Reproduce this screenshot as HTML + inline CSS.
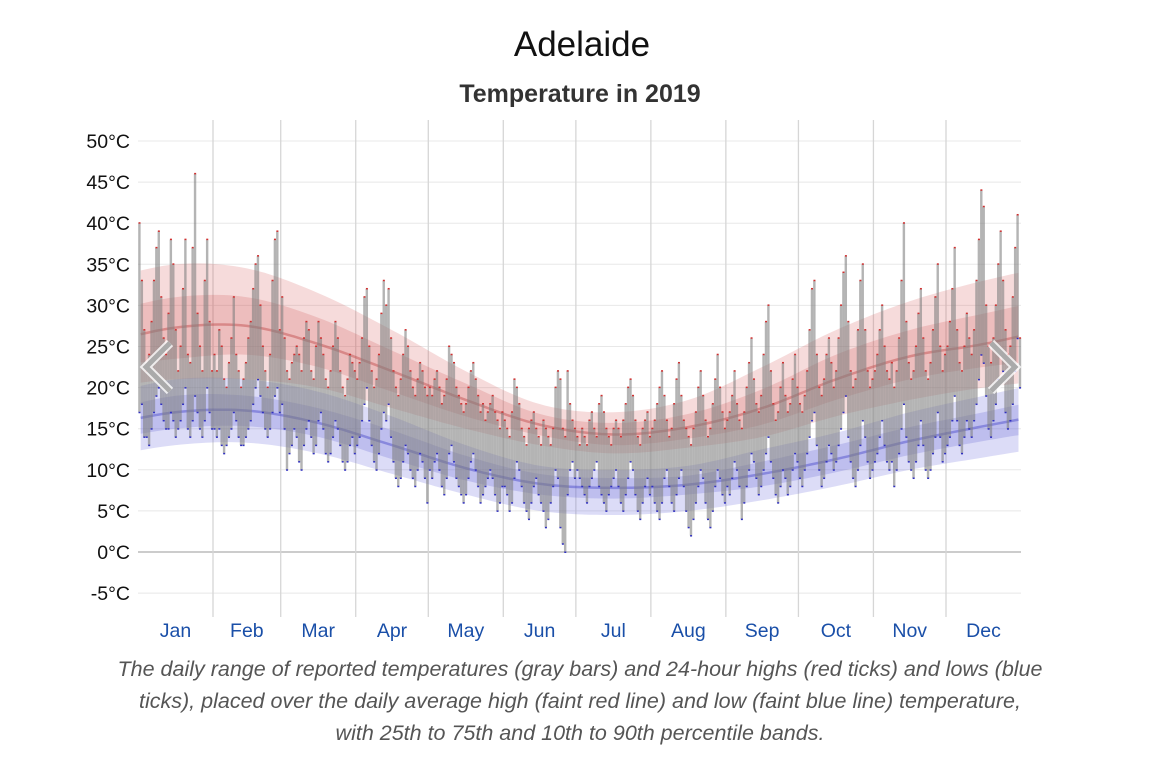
<!DOCTYPE html>
<html><head><meta charset="utf-8"><style>
body{margin:0;background:#fff;width:1162px;height:778px;overflow:hidden;font-family:"Liberation Sans",sans-serif}
</style></head><body>
<svg id="c" width="1162" height="778" xmlns="http://www.w3.org/2000/svg">
<text x="582" y="56" text-anchor="middle" font-size="35" fill="#111">Adelaide</text>
<text x="580" y="102" text-anchor="middle" font-size="25" font-weight="bold" fill="#333">Temperature in 2019</text>
<g id="grid"></g><g id="bands"></g><g id="bars"></g><g id="axes"></g>
<g font-size="21.5" font-style="italic" fill="#555" text-anchor="middle">
<text x="580" y="676">The daily range of reported temperatures (gray bars) and 24-hour highs (red ticks) and lows (blue</text>
<text x="580" y="708">ticks), placed over the daily average high (faint red line) and low (faint blue line) temperature,</text>
<text x="580" y="740">with 25th to 75th and 10th to 90th percentile bands.</text>
</g>
<g><polyline points="170,343 146,367 170,391" fill="none" stroke="#fff" stroke-width="9" opacity="0.8"/><polyline points="170,343 146,367 170,391" fill="none" stroke="#aaa" stroke-width="5"/></g>
<g><polyline points="991,343 1015,367 991,391" fill="none" stroke="#fff" stroke-width="9" opacity="0.8"/><polyline points="991,343 1015,367 991,391" fill="none" stroke="#aaa" stroke-width="5"/></g>
</svg>
<script>
const months=["Jan","Feb","Mar","Apr","May","Jun","Jul","Aug","Sep","Oct","Nov","Dec"];
const monthDays=[31,28,31,30,31,30,31,31,30,31,30,31];
const yTicks=[50,45,40,35,30,25,20,15,10,5,0,-5];
const highs=[40,33,27,22,24,28,33,37,39,31,26,24,29,38,35,27,22,25,32,38,24,23,37,46,29,25,22,33,38,28,22,
24,22,27,25,21,20,23,26,31,24,22,20,21,23,26,28,32,35,36,30,25,22,20,24,33,38,39,27,
31,26,22,21,23,24,25,24,22,26,28,27,22,21,25,28,26,24,21,20,22,25,28,26,22,20,19,21,24,23,22,
21,23,26,31,32,25,22,20,21,24,29,33,30,32,26,22,20,19,21,24,27,25,22,20,19,21,23,22,20,19,
20,19,21,22,20,18,19,21,25,24,23,20,19,18,17,18,20,22,23,21,19,17,18,16,17,18,19,17,16,15,17,
16,15,14,17,21,20,18,15,14,13,15,16,17,15,14,13,16,15,14,13,15,20,22,21,15,14,22,18,16,15,
14,13,15,14,13,16,17,15,14,18,19,17,15,14,13,15,16,15,14,16,18,20,21,19,16,14,13,15,16,17,14,
15,16,18,20,22,19,16,14,15,18,21,23,19,16,15,14,13,15,17,20,22,19,16,14,15,18,21,24,20,17,15,
16,17,19,22,18,16,15,17,20,23,26,21,18,17,19,24,28,30,22,18,16,17,20,23,19,17,18,21,24,20,
18,17,19,22,27,32,33,24,20,19,21,24,26,23,20,22,26,30,34,36,28,22,20,21,27,33,35,27,22,20,21,
22,24,27,30,25,22,21,23,20,22,26,33,40,28,23,21,22,25,29,32,26,22,21,23,27,31,35,25,22,24,
25,28,32,37,27,23,22,25,29,26,24,27,33,38,44,42,30,25,23,26,30,35,39,33,27,24,25,31,37,41,26];
const lows=[17,18,14,14,13,15,17,19,20,18,16,15,15,17,16,14,15,16,18,20,15,14,16,19,17,15,14,16,20,17,15,
15,14,15,13,12,13,14,15,17,16,14,13,13,14,15,16,18,20,21,19,17,15,14,15,17,19,20,17,
18,15,10,12,13,15,14,11,10,13,15,16,14,12,13,16,17,15,12,11,12,14,16,15,13,11,10,11,13,14,12,
13,14,16,18,20,16,13,11,10,12,15,17,16,18,14,11,9,8,9,11,13,12,10,9,8,10,12,11,9,6,
10,9,11,12,10,8,7,9,12,13,11,9,8,7,6,7,9,11,12,10,8,6,7,8,9,10,9,7,5,6,8,
8,7,5,6,9,11,10,8,6,5,4,6,8,9,7,6,5,3,4,6,8,10,9,3,1,0,7,10,11,9,
10,9,8,7,6,8,9,10,11,8,7,6,5,7,8,9,10,8,6,5,7,9,11,10,7,5,4,6,8,9,7,
8,6,5,4,6,9,10,8,6,5,7,9,10,8,5,3,2,4,6,8,10,9,6,4,3,5,8,10,9,7,6,
8,7,9,11,10,8,4,6,8,10,12,11,9,7,8,10,12,14,11,9,7,6,8,10,9,7,8,10,12,11,
9,8,10,12,14,16,17,13,10,8,9,11,13,12,10,11,13,15,17,19,14,11,9,8,10,13,16,14,11,9,10,
11,12,14,16,13,11,10,11,8,10,12,15,18,14,11,10,9,11,13,16,13,10,9,10,12,14,17,14,11,12,
13,14,16,19,16,13,12,14,16,15,14,16,18,21,24,23,19,15,14,16,18,21,24,22,17,15,16,18,22,26,20];
const highMean=[27.3,27.5,25.3,22,18.5,15.5,14.3,15.2,17.5,21,23.8,25.3];
const highP90=[35,34.5,31.5,27,22,18,17,18.5,22.5,27,30.5,33];
const highP75=[31,31,28.5,24.5,20.5,16.8,15.7,16.8,19.8,24,27,29];
const highP25=[23.5,24,22.5,19.5,16.5,14.2,13,13.8,15.5,18.5,21,22.5];
const highP10=[21,21,20,17.5,15,13,12,12.7,14,16.5,18.5,20];
const lowMean=[17,17.2,15.7,13,10.2,8.3,7.8,8.2,9.5,11.3,13.5,15.3];
const lowP90=[21,21,19.5,16.5,13,10.5,10,10.5,12.5,14.5,17,19];
const lowP75=[19,19,17.5,14.8,11.7,9.5,9,9.3,11,13,15.2,17];
const lowP25=[15,15.3,14,11.3,8.7,7,6.5,7,8,9.7,11.8,13.5];
const lowP10=[13,13.3,12,9.5,7,5,4.5,5,6.3,8,10,11.5];

const NS="http://www.w3.org/2000/svg";
const X0=138,X1=1021,TOP=120,BOT=617,nDays=highs.length;
const dw=(X1-X0)/365;
const x=d=>X0+d*dw;
const y=v=>552-v*8.22;
function mk(tag,attrs,parent){const e=document.createElementNS(NS,tag);for(const k in attrs)e.setAttribute(k,attrs[k]);document.getElementById(parent).appendChild(e);return e;}
const starts=[];let acc=0;for(const m of monthDays){starts.push(acc);acc+=m;}
yTicks.forEach(t=>{
 const l=mk('line',{x1:X0,x2:X1,y1:y(t),y2:y(t),stroke:t===0?'#999':'#e8e8e8','stroke-width':1},'grid');
 
 
 const tx=mk('text',{x:130,y:y(t)+7,'text-anchor':'end','font-size':19.5,fill:'#111'},'axes');
 tx.textContent=t+'°C';
 
 
});
starts.forEach((s,i)=>{
 if(i>0){const l=mk('line',{x1:x(s),x2:x(s),y1:TOP,y2:BOT,stroke:'#d6d6d6','stroke-width':1.3},'grid');
 
 }
 const tx=mk('text',{x:x(s+monthDays[i]/2),y:637,'text-anchor':'middle','font-size':19.5,fill:'#1a4fa8'},'axes');
 tx.textContent=months[i];
 
 
});
function pts(arr){
 const p=[];const c=i=>starts[i]+monthDays[i]/2;
 p.push([c(11)-365,arr[11]]);arr.forEach((v,i)=>p.push([c(i),v]));p.push([c(0)+365,arr[0]]);
 const out=[];
 for(let i=0;i<p.length-1;i++){
  const p0=p[Math.max(0,i-1)],p1=p[i],p2=p[i+1],p3=p[Math.min(p.length-1,i+2)];
  for(let k=0;k<12;k++){const t=k/12,t2=t*t,t3=t2*t;
   const f=(a,b,c2,d)=>0.5*((2*b)+(-a+c2)*t+(2*a-5*b+4*c2-d)*t2+(-a+3*b-3*c2+d)*t3);
   const dd=f(p0[0],p1[0],p2[0],p3[0]);if(dd<0||dd>365)continue;
   out.push([x(dd),y(f(p0[1],p1[1],p2[1],p3[1]))]);}
 }
 return out;
}
function band(hi,lo,fill,name){
 const a=pts(hi),b=pts(lo).reverse();
 const e=mk('path',{d:'M'+a.concat(b).map(q=>q[0].toFixed(1)+','+q[1].toFixed(1)).join('L')+'Z',fill:fill},'bands');
 
 
}
function line(arr,col,name){
 const e=mk('path',{d:'M'+pts(arr).map(q=>q[0].toFixed(1)+','+q[1].toFixed(1)).join('L'),fill:'none',stroke:col,'stroke-width':2.5},'bands');
 
 
}
band(highP90,highP10,'rgba(215,90,90,0.22)','high-band-10-90');
band(highP75,highP25,'rgba(205,80,80,0.22)','high-band-25-75');
band(lowP90,lowP10,'rgba(95,95,220,0.22)','low-band-10-90');
band(lowP75,lowP25,'rgba(85,85,210,0.22)','low-band-25-75');
line(highMean,'rgba(190,70,70,0.45)','average-high-line');
line(lowMean,'rgba(70,70,200,0.45)','average-low-line');
for(let d=0;d<nDays;d++){
 const b=mk('rect',{x:x(d)+0.2,y:y(highs[d]),width:dw,height:Math.max(1,y(lows[d])-y(highs[d])),fill:'rgba(125,125,125,0.58)'},'bars');
 
 
 const h=mk('rect',{x:x(d)+0.5,y:y(highs[d])-1,width:2,height:1.5,fill:'#d03030'},'bars');
 
 
 const l=mk('rect',{x:x(d)+0.5,y:y(lows[d])-0.5,width:2,height:1.5,fill:'#3030c0'},'bars');
 
 
}
</script>
</body></html>
